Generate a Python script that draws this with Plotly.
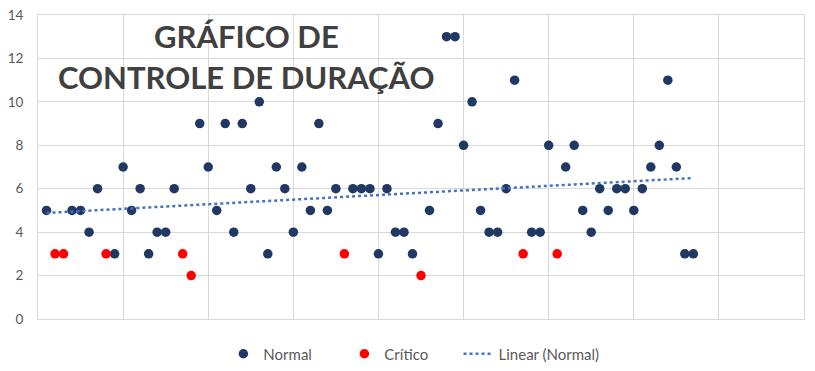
import numpy as np
import plotly.graph_objects as go

# Data (index of each observation and duration)
normal_x = [1, 4, 5, 6, 7, 9, 10, 11, 12, 13, 14, 15, 16, 19, 20, 21, 22, 23, 24, 25, 26, 27,
            28, 29, 30, 31, 32, 33, 34, 35, 37, 38, 39, 40, 41, 42, 43, 44, 46, 47, 48, 49,
            50, 51, 52, 53, 54, 55, 56, 58, 59, 60, 62, 63, 64, 65, 66, 67, 68, 69, 70, 71,
            72, 73, 74, 75, 76, 77]
normal_y = [5, 5, 5, 4, 6, 3, 7, 5, 6, 3, 4, 4, 6, 9, 7, 5, 9, 4, 9, 6, 10, 3,
            7, 6, 4, 7, 5, 9, 5, 6, 6, 6, 6, 3, 6, 4, 4, 3, 5, 9, 13, 13,
            8, 10, 5, 4, 4, 6, 11, 4, 4, 8, 7, 8, 5, 4, 6, 5, 6, 6, 5, 6,
            7, 8, 11, 7, 3, 3]
critico_x = [2, 3, 8, 17, 18, 36, 45, 57, 61]
critico_y = [3, 3, 3, 3, 2, 3, 2, 3, 3]

title_lines = ["GRÁFICO DE", "CONTROLE DE DURAÇÃO"]
y_ticks = [0, 2, 4, 6, 8, 10, 12, 14]

# Linear trendline fitted over all observations
all_x = normal_x + critico_x
all_y = normal_y + critico_y
slope, intercept = np.polyfit(all_x, all_y, 1)
trend_x = [min(all_x), max(all_x)]
trend_y = [slope * v + intercept for v in trend_x]

fig = go.Figure()
fig.add_trace(go.Scatter(x=normal_x, y=normal_y, mode="markers", name="Normal",
                         marker=dict(color="#1f3864", size=9.5), legend="legend"))
fig.add_trace(go.Scatter(x=critico_x, y=critico_y, mode="markers", name="Crítico",
                         marker=dict(color="#ff0000", size=9.5), legend="legend"))
fig.add_trace(go.Scatter(x=trend_x, y=trend_y, mode="lines", name="Linear (Normal)",
                         line=dict(color="#4472c4", width=2.5, dash="dot"),
                         legend="legend2"))

plot_h = 371 - 7 - 60
legend_font = dict(size=15, color="#595959")
fig.update_layout(
    width=815, height=371,
    margin=dict(l=30, r=19, t=7, b=60, autoexpand=False),
    paper_bgcolor="white", plot_bgcolor="white",
    font=dict(family="Lato, Liberation Sans, sans-serif", size=14, color="#595959"),
    showlegend=True,
    legend=dict(orientation="h", x=0.242, xanchor="left",
                y=-35 / plot_h, yanchor="middle", entrywidth=76, entrywidthmode="pixels",
                font=legend_font, itemwidth=30),
    legend2=dict(orientation="h", x=0.549, xanchor="left",
                 y=-35 / plot_h, yanchor="middle", font=legend_font, itemwidth=30),
    xaxis=dict(range=[0, 90], dtick=10, showticklabels=False, showgrid=True,
               gridcolor="#d9d9d9", gridwidth=1, zeroline=False, automargin=False,
               showline=True, linecolor="#d9d9d9", mirror=True, ticks=""),
    yaxis=dict(range=[0, 14], tickvals=y_ticks, showgrid=True, gridcolor="#d9d9d9",
               gridwidth=1, zeroline=False, showline=True, linecolor="#d9d9d9",
               mirror=True, ticks="", ticklabelstandoff=11, automargin=False,
               ticklabeloverflow="allow",
               tickfont=dict(size=13.5, color="#595959")),
)

fig.add_annotation(text="<b>" + title_lines[0] + "</b>", xref="paper", yref="paper",
                   x=0.272, y=(311 - 28) / plot_h, xanchor="center", yanchor="middle",
                   showarrow=False, font=dict(family="Lato", size=31, color="#404040"))
fig.add_annotation(text="<b>" + title_lines[1] + "</b>", xref="paper", yref="paper",
                   x=0.272, y=(311 - 69) / plot_h, xanchor="center", yanchor="middle",
                   showarrow=False, font=dict(family="Lato", size=31, color="#404040"))

fig.write_html("out.html")
